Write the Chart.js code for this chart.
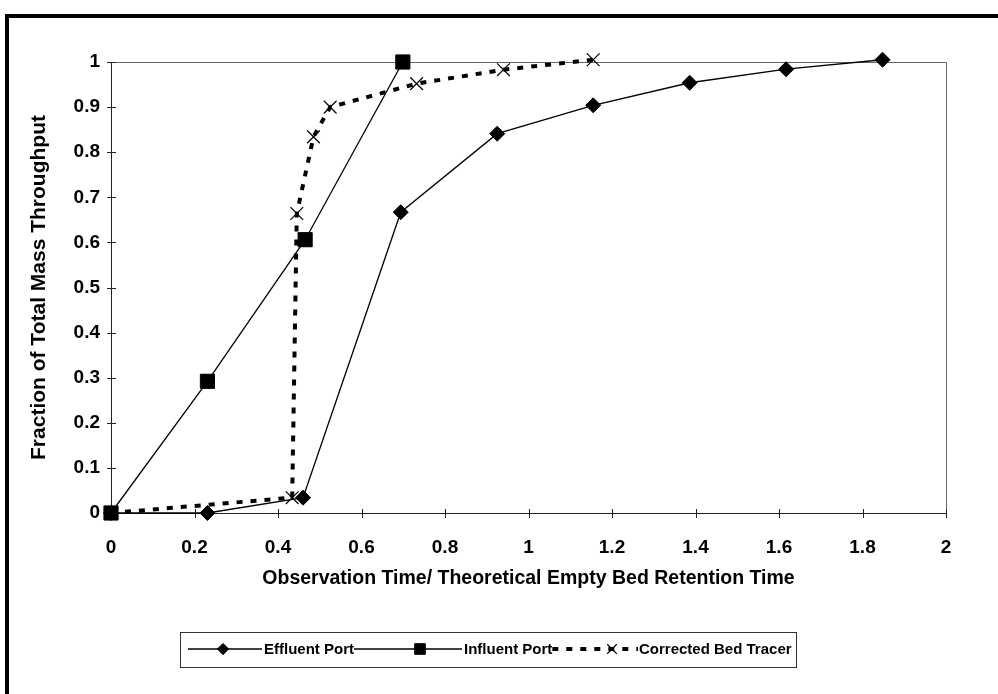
<!DOCTYPE html>
<html>
<head>
<meta charset="utf-8">
<script src="https://cdn.jsdelivr.net/npm/chart.js@4/dist/chart.umd.min.js"></script>
<style>
  html, body { margin: 0; padding: 0; background: #fff; }
  #wrap { position: relative; width: 998px; height: 694px; }
  canvas { display: block; }
</style>
</head>
<body>
<div id="wrap"><canvas id="chart" width="998" height="694"></canvas></div>
<script>
// Breakthrough curves: fraction of total mass vs. normalised observation time
const effluentX = [0, 0.231, 0.46, 0.694, 0.925, 1.155, 1.386, 1.617, 1.848];
const effluentY = [0, 0, 0.034, 0.667, 0.841, 0.904, 0.954, 0.984, 1.005];

const influentX = [0, 0.231, 0.465, 0.699];
const influentY = [0, 0.292, 0.606, 1.0];

const tracerX = [0, 0.434, 0.445, 0.485, 0.525, 0.732, 0.94, 1.155];
const tracerY = [0, 0.034, 0.664, 0.834, 0.900, 0.952, 0.983, 1.005];

const seriesNames = ['Effluent Port', 'Influent Port', 'Corrected Bed Tracer'];
const xTickValues = [0, 0.2, 0.4, 0.6, 0.8, 1, 1.2, 1.4, 1.6, 1.8, 2];
const yTickValues = [0, 0.1, 0.2, 0.3, 0.4, 0.5, 0.6, 0.7, 0.8, 0.9, 1];
const xAxisTitle = 'Observation Time/ Theoretical Empty Bed Retention Time';
const yAxisTitle = 'Fraction of Total Mass Throughput';

const FONT = '"Liberation Sans", Arial, sans-serif';

function pairs(xs, ys) { return xs.map((x, i) => ({ x: x, y: ys[i] })); }
function fmt(v) { return String(Math.round(v * 10) / 10); }

// Plot frame, crossing tick marks, legend box and the outer page border
const decorations = {
  id: 'decorations',
  beforeDraw(chart) {
    const ctx = chart.ctx;
    ctx.save();
    ctx.fillStyle = '#fff';
    ctx.fillRect(0, 0, chart.width, chart.height);
    ctx.restore();
  },
  beforeDatasetsDraw(chart) {
    const { ctx, chartArea: a, scales } = chart;
    ctx.save();
    ctx.lineWidth = 1;
    // top and right edges of the plot area
    ctx.strokeStyle = '#666';
    ctx.beginPath();
    ctx.moveTo(a.left, a.top + 0.5); ctx.lineTo(a.right + 0.5, a.top + 0.5);
    ctx.lineTo(a.right + 0.5, a.bottom);
    ctx.stroke();
    // axes
    ctx.strokeStyle = '#222';
    ctx.beginPath();
    ctx.moveTo(a.left + 0.5, a.top); ctx.lineTo(a.left + 0.5, a.bottom + 0.5);
    ctx.lineTo(a.right + 0.5, a.bottom + 0.5);
    ctx.stroke();
    // tick marks crossing each axis
    ctx.beginPath();
    yTickValues.forEach(v => {
      const y = Math.round(scales.y.getPixelForValue(v)) + 0.5;
      ctx.moveTo(a.left - 4, y); ctx.lineTo(a.left + 5, y);
    });
    xTickValues.forEach(v => {
      const x = Math.round(scales.x.getPixelForValue(v)) + 0.5;
      ctx.moveTo(x, a.bottom - 4); ctx.lineTo(x, a.bottom + 5);
    });
    ctx.stroke();
    ctx.restore();
  },
  afterDraw(chart) {
    const ctx = chart.ctx;
    ctx.save();
    // legend: sample line with marker, then the series name
    ctx.font = 'bold 15px ' + FONT;
    ctx.textBaseline = 'middle';
    ctx.textAlign = 'left';
    const cy = 649;
    const items = [
      { ds: 0, x0: 188, x1: 262, mx: 223, tx: 264 },
      { ds: 1, x0: 0,   x1: 462, mx: 420, tx: 464 },
      { ds: 2, x0: 0,   x1: 638, mx: 612, tx: 639 }
    ];
    let prevEnd = 0;
    items.forEach(it => {
      const ds = chart.data.datasets[it.ds];
      const x0 = it.x0 || prevEnd;
      ctx.save();
      ctx.strokeStyle = ds.borderColor;
      ctx.lineWidth = ds.borderWidth;
      ctx.setLineDash(ds.borderDash || []);
      ctx.beginPath();
      ctx.moveTo(x0, cy); ctx.lineTo(it.x1, cy);
      ctx.stroke();
      ctx.restore();
      ctx.save();
      ctx.fillStyle = ds.pointBackgroundColor;
      ctx.strokeStyle = ds.pointBorderColor;
      ctx.lineWidth = ds.pointBorderWidth;
      Chart.helpers.drawPoint(ctx, {
        pointStyle: ds.pointStyle,
        radius: ds.pointRadius * 0.75,
        borderWidth: ds.pointBorderWidth
      }, it.mx, cy);
      ctx.restore();
      ctx.fillStyle = '#000';
      ctx.fillText(ds.label, it.tx, cy + 1);
      prevEnd = it.tx + ctx.measureText(ds.label).width;
    });
    ctx.strokeStyle = '#333';
    ctx.lineWidth = 1;
    ctx.strokeRect(180.5, 632.5, Math.round(prevEnd + 4 - 180), 35);
    // outer border
    ctx.fillStyle = '#000';
    ctx.fillRect(5, 14, chart.width - 5, 4);
    ctx.fillRect(5, 14, 4, chart.height - 14);
    ctx.restore();
  }
};

new Chart(document.getElementById('chart'), {
  type: 'scatter',
  data: {
    datasets: [
      {
        label: seriesNames[0],
        data: pairs(effluentX, effluentY),
        showLine: true,
        borderColor: '#000',
        borderWidth: 1.3,
        pointStyle: 'rectRot',
        pointRadius: 7.5,
        pointBackgroundColor: '#000',
        pointBorderColor: '#000',
        pointBorderWidth: 1,
        order: 2
      },
      {
        label: seriesNames[1],
        data: pairs(influentX, influentY),
        showLine: true,
        borderColor: '#000',
        borderWidth: 1.3,
        pointStyle: 'rect',
        pointRadius: 10,
        pointBackgroundColor: '#000',
        pointBorderColor: '#000',
        pointBorderWidth: 1,
        order: 1
      },
      {
        label: seriesNames[2],
        data: pairs(tracerX, tracerY),
        showLine: true,
        borderColor: '#000',
        borderWidth: 4,
        borderDash: [6, 8],
        pointStyle: 'crossRot',
        pointRadius: 9,
        pointBackgroundColor: '#000',
        pointBorderColor: '#000',
        pointBorderWidth: 1.2,
        order: 0
      }
    ]
  },
  options: {
    responsive: false,
    animation: false,
    devicePixelRatio: 1,
    clip: false,
    layout: { padding: { left: 10, right: 52, top: 62, bottom: 101 } },
    plugins: {
      legend: { display: false },
      tooltip: { enabled: false }
    },
    scales: {
      x: {
        type: 'linear',
        min: 0, max: 2,
        afterFit(scale) { scale.height = 80; },
        afterBuildTicks(scale) { scale.ticks = xTickValues.map(v => ({ value: v })); },
        grid: { display: false, drawTicks: false },
        border: { display: false },
        ticks: {
          color: '#000',
          font: { family: FONT, size: 19, weight: 'bold' },
          padding: 23,
          maxRotation: 0,
          autoSkip: false,
          callback: v => fmt(v)
        },
        title: {
          display: true,
          text: xAxisTitle,
          color: '#000',
          font: { family: FONT, size: 19.5, weight: 'bold' },
          padding: { top: 0, bottom: 3 }
        }
      },
      y: {
        type: 'linear',
        min: 0, max: 1,
        afterFit(scale) { scale.width = 101; },
        afterBuildTicks(scale) { scale.ticks = yTickValues.map(v => ({ value: v })); },
        grid: { display: false, drawTicks: false },
        border: { display: false },
        ticks: {
          color: '#000',
          font: { family: FONT, size: 19, weight: 'bold' },
          padding: 11,
          autoSkip: false,
          callback: v => fmt(v)
        },
        title: {
          display: true,
          text: yAxisTitle,
          color: '#000',
          font: { family: FONT, size: 21, weight: 'bold' },
          padding: { top: 17, bottom: 0 }
        }
      }
    }
  },
  plugins: [decorations]
});
</script>
</body>
</html>
